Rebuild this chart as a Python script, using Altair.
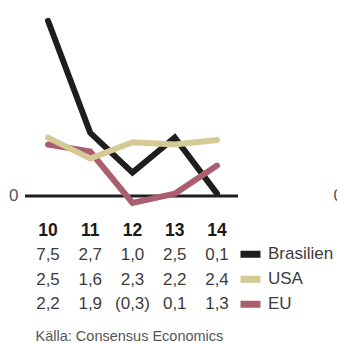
import altair as alt
import pandas as pd

years = [10, 11, 12, 13, 14]
series = ["Brasilien", "USA", "EU"]
brasilien = [7.5, 2.7, 1.0, 2.5, 0.1]
usa = [2.5, 1.6, 2.3, 2.2, 2.4]
eu = [2.2, 1.9, -0.3, 0.1, 1.3]
colors = ["#1e1e1c", "#d5ca96", "#a95f70"]
draw_order = ["Brasilien", "EU", "USA"]
source = "Källa: Consensus Economics"
FONT = "Liberation Sans"
TXT = "#3c3c3c"


def fmt(v):
    s = f"{abs(v):.1f}".replace(".", ",")
    return f"({s})" if v < 0 else s


vals = {"Brasilien": brasilien, "USA": usa, "EU": eu}
rows = []
for name in draw_order:
    for y, v in zip(years, vals[name]):
        rows.append({"year": y, "series": name, "value": v, "label": fmt(v)})
df = pd.DataFrame(rows)
yr_df = pd.DataFrame({"year": years, "series": "yr", "label": [str(y) for y in years]})

xscale = alt.Scale(domain=[9.4556, 14.497], nice=False, zero=False)
yscale = alt.Scale(domain=[-0.60, 8.387], nice=False, zero=False)
rowscale = alt.Scale(type="point", domain=["yr"] + series, range=[231, 304], padding=0)

color = alt.Color(
    "series:N",
    scale=alt.Scale(domain=series, range=colors),
    legend=alt.Legend(
        title=None, orient="none", legendX=212, legendY=242,
        symbolType="stroke", symbolSize=400, symbolStrokeWidth=7,
        labelFont=FONT, labelFontSize=17, labelColor=TXT,
        labelOffset=4, rowPadding=0, clipHeight=24.5, padding=0,
    ),
)

axis_common = dict(values=[0], domain=False, ticks=False, grid=False, title=None,
                   labelFont=FONT, labelFontSize=17, labelColor="#555555")

zero = alt.Chart(pd.DataFrame({"v": [0]})).mark_rule(color="#1e1e1c", strokeWidth=3).encode(
    y=alt.Y("v:Q", scale=yscale,
            axis=alt.Axis(orient="right", labelPadding=95, labelAlign="left", **axis_common))
)

lines = alt.Chart(df).mark_line(strokeWidth=6, strokeCap="round", clip=False).encode(
    x=alt.X("year:Q", scale=xscale, axis=None),
    y=alt.Y("value:Q", scale=yscale,
            axis=alt.Axis(orient="left", labelPadding=7, **axis_common)),
    color=color,
    order="year:Q",
)

yr_text = alt.Chart(yr_df).mark_text(
    font=FONT, fontSize=17.5, fontWeight="bold", color="#1a1a1a", baseline="middle"
).encode(
    x=alt.X("year:Q", scale=xscale, axis=None),
    y=alt.Y("series:N", scale=rowscale, axis=None),
    text="label:N",
)

val_text = alt.Chart(df).mark_text(
    font=FONT, fontSize=17, color=TXT, baseline="middle"
).encode(
    x=alt.X("year:Q", scale=xscale, axis=None),
    y=alt.Y("series:N", scale=rowscale, axis=None),
    text="label:N",
)

chart = alt.layer(zero, lines, yr_text, val_text).resolve_scale(
    y="independent"
).resolve_axis(y="independent").properties(
    width=213, height=210,
    autosize=alt.AutoSizeParams(type="none"),
    padding={"left": 25, "top": 0, "right": 99, "bottom": 133},
    title=alt.TitleParams(source, orient="bottom", anchor="start", font=FONT,
                          fontSize=14.5, fontWeight="normal", color="#555555",
                          offset=13, dx=27),
).configure_view(stroke=None)

chart.save("out.html", embed_options={"renderer": "svg", "actions": False})
